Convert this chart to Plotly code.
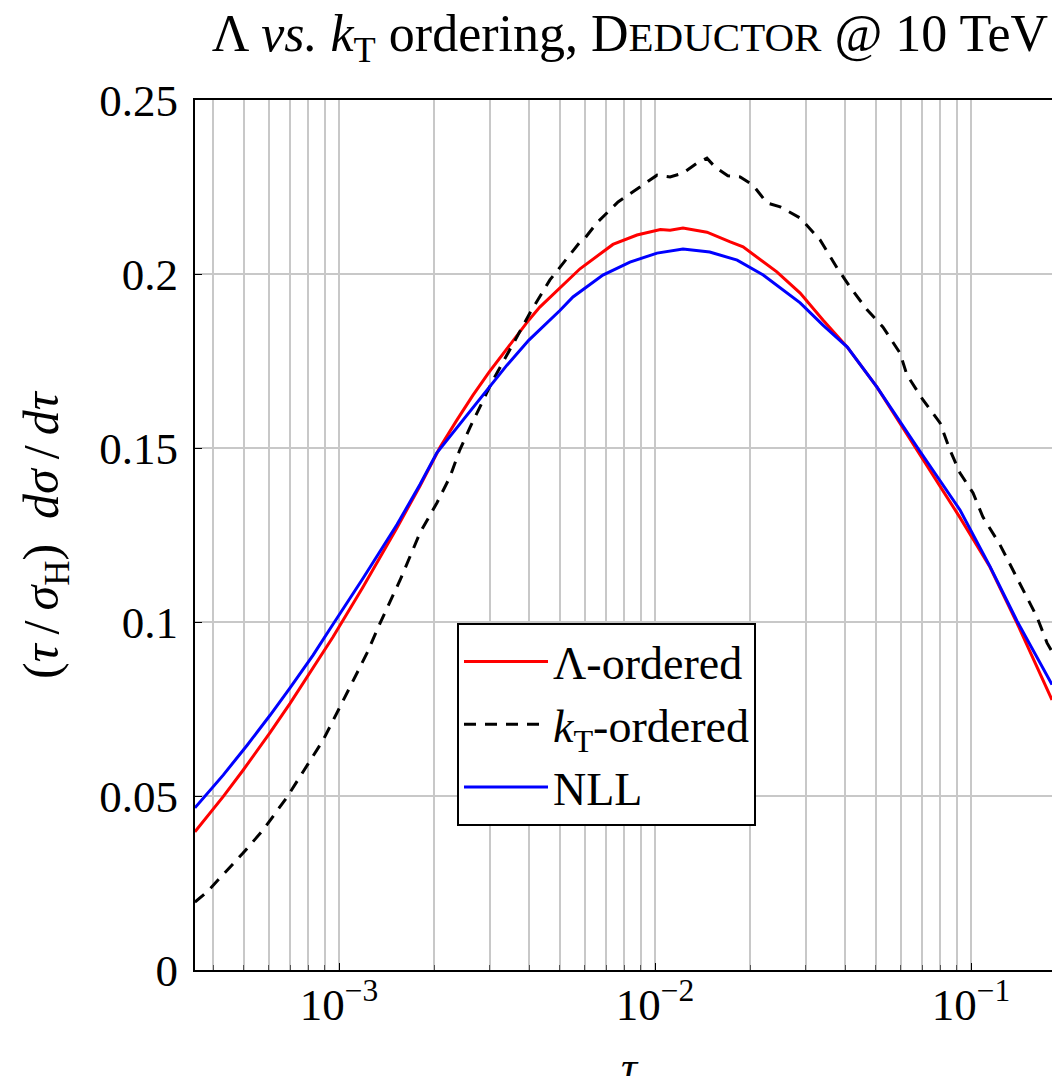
import plotly.graph_objects as go

# ---- data ----
tau_lambda = [3.50e-4, 4.30e-4, 4.97e-4, 6.05e-4, 7.00e-4, 8.09e-4, 9.57e-4, 1.19e-3,
              1.526e-3, 1.804e-3, 2.09e-3, 2.36e-3, 2.655e-3, 2.985e-3, 3.40e-3, 3.99e-3,
              4.32e-3, 5.00e-3, 5.79e-3, 7.36e-3,
              8.77e-3, 1.04e-2, 1.116e-2, 1.226e-2, 1.46e-2, 1.73e-2, 1.90e-2, 2.43e-2,
              2.88e-2, 3.40e-2, 4.06e-2, 5.04e-2, 6.75e-2, 9.23e-2, 0.1148, 0.1398, 0.1804]
val_lambda = [0.0397, 0.0498, 0.0574, 0.0682, 0.0766, 0.0853, 0.0957, 0.1100,
              0.1271, 0.1391, 0.1503, 0.1580, 0.1652, 0.1718, 0.1785, 0.1868,
              0.1905, 0.1960, 0.2015, 0.2085,
              0.2112, 0.2128, 0.2126, 0.2132, 0.2120, 0.2092, 0.2078, 0.2006,
              0.1945, 0.1868, 0.1790, 0.1675, 0.1494, 0.1300, 0.1158, 0.0997, 0.0776]

tau_kt = [3.50e-4, 3.82e-4, 4.97e-4, 5.75e-4, 6.85e-4, 8.09e-4, 8.90e-4, 1.007e-3,
          1.14e-3, 1.227e-3, 1.349e-3, 1.56e-3, 1.804e-3, 2.04e-3, 2.245e-3, 2.41e-3,
          2.60e-3, 2.79e-3, 3.07e-3, 3.56e-3, 4.02e-3,
          4.65e-3, 5.00e-3, 5.79e-3, 6.00e-3, 6.55e-3, 7.64e-3, 8.96e-3, 1.015e-2,
          1.116e-2, 1.226e-2, 1.36e-2, 1.46e-2, 1.55e-2, 1.70e-2, 1.86e-2, 2.04e-2,
          2.26e-2, 2.49e-2, 2.88e-2, 3.33e-2, 3.77e-2, 4.14e-2, 4.69e-2, 5.26e-2,
          5.96e-2, 6.27e-2, 7.05e-2, 7.98e-2, 8.58e-2, 9.23e-2, 0.1015, 0.109,
          0.1235, 0.143, 0.1618, 0.174, 0.1804]
val_kt = [0.0195, 0.0224, 0.0336, 0.0402, 0.0497, 0.0603, 0.0660, 0.0756,
          0.0853, 0.0911, 0.0997, 0.1120, 0.1256, 0.1342, 0.1417, 0.1494,
          0.1560, 0.1618, 0.1695, 0.1800, 0.1888,
          0.1983, 0.2020, 0.2092, 0.2103, 0.2147, 0.2207, 0.2250, 0.2284,
          0.2279, 0.2290, 0.2319, 0.2333, 0.2307, 0.2282, 0.2279, 0.2256,
          0.2204, 0.2193, 0.2161, 0.2098, 0.2017, 0.1963, 0.1897, 0.1848,
          0.1773, 0.1710, 0.1638, 0.1572, 0.1494, 0.1428, 0.1371, 0.1302,
          0.1222, 0.1110, 0.1014, 0.0940, 0.0915]

tau_nll = [3.50e-4, 4.30e-4, 5.12e-4, 6.05e-4, 7.00e-4, 8.28e-4, 9.36e-4, 1.19e-3,
           1.526e-3, 1.804e-3, 2.04e-3, 2.47e-3, 2.655e-3, 2.985e-3, 3.40e-3, 3.99e-3,
           5.00e-3, 5.50e-3, 6.84e-3, 8.33e-3,
           1.015e-2, 1.226e-2, 1.49e-2, 1.82e-2, 2.20e-2, 2.88e-2, 3.40e-2, 4.06e-2,
           5.04e-2, 6.75e-2, 9.23e-2, 0.1148, 0.1398, 0.1804]
val_nll = [0.0466, 0.0560, 0.0646, 0.0732, 0.0811, 0.0905, 0.0980, 0.1125,
           0.1280, 0.1395, 0.1486, 0.1580, 0.1618, 0.1675, 0.1738, 0.1810,
           0.1895, 0.1934, 0.1997, 0.2034,
           0.2060, 0.2072, 0.2063, 0.2040, 0.1997, 0.1917, 0.1853, 0.1790,
           0.1675, 0.1503, 0.1322, 0.1160, 0.1003, 0.0820]

y_ticks = [0, 0.05, 0.1, 0.15, 0.2, 0.25]
y_ticklabels = ["0", "0.05", "0.1", "0.15", "0.2", "0.25"]
x_ticks = [1e-3, 1e-2, 1e-1]
x_ticklabels = ["10<sup>\u22123</sup>", "10<sup>\u22122</sup>", "10<sup>\u22121</sup>"]

FONT = "Liberation Serif"
W, H = 1052, 1076
ML, MT, MB, MR = 195, 100, 106, 0

fig = go.Figure()
fig.add_trace(go.Scatter(x=tau_lambda, y=val_lambda, mode="lines", name="\u039b-ordered",
                         line=dict(color="#ff0000", width=3)))
fig.add_trace(go.Scatter(x=tau_kt, y=val_kt, mode="lines",
                         name="<i>k</i><sub>T</sub>-ordered",
                         line=dict(color="#000000", width=3, dash="12px,9px")))
fig.add_trace(go.Scatter(x=tau_nll, y=val_nll, mode="lines", name="NLL",
                         line=dict(color="#0000ff", width=3)))

grid = "#c8c8c8"
fig.update_layout(
    width=W, height=H,
    margin=dict(l=ML, r=MR, t=MT, b=MB, pad=0),
    paper_bgcolor="white", plot_bgcolor="white",
    font=dict(family=FONT, size=45, color="black"),
    title=dict(text="\u039b <i>vs.</i> <i>k</i><sub>T</sub> ordering, D<span style='font-size:41px'>EDUCTOR</span> @ 10 TeV",
               x=630 / W, xref="container", xanchor="center",
               y=1 - 33 / H, yref="container", yanchor="middle",
               font=dict(family=FONT, size=52, color="black")),
    showlegend=True,
    legend=dict(x=(457 - ML) / (W - ML - MR), y=(970 - 623) / 870,
                xanchor="left", yanchor="top",
                bgcolor="white", bordercolor="black", borderwidth=2,
                font=dict(family=FONT, size=46, color="black"),
                itemwidth=84, tracegroupgap=0),
)
fig.update_xaxes(
    type="log", range=[-3.4557, -0.7437],
    tickvals=x_ticks, ticktext=x_ticklabels,
    ticks="inside", ticklen=7, tickcolor="black", tickwidth=1,
    showline=True, linecolor="black", linewidth=2, mirror=True,
    showgrid=True, gridcolor=grid, gridwidth=2,
    minor=dict(dtick="D1", showgrid=True, gridcolor=grid, gridwidth=2,
               ticks="inside", ticklen=5, tickcolor="#555555"),
    zeroline=False, ticklabelstandoff=-6,
    tickfont=dict(family=FONT, size=45),
)
fig.update_yaxes(
    range=[0, 0.25], tickvals=y_ticks, ticktext=y_ticklabels,
    ticks="inside", ticklen=7, tickcolor="black",
    showline=True, linecolor="black", linewidth=2,
    showgrid=True, gridcolor=grid, gridwidth=2,
    zeroline=False, ticklabelstandoff=6,
    tickfont=dict(family=FONT, size=45),
)

fig.add_annotation(text="(<i>\u03c4</i>\u2009/\u2009<i>\u03c3</i><sub>H</sub>)  <i>d\u03c3</i>\u2009/\u2009<i>d\u03c4</i>",
                   xref="paper", yref="paper", x=(45 - ML) / (W - ML - MR), y=0.5,
                   xanchor="center", yanchor="middle", textangle=-90, showarrow=False,
                   font=dict(family=FONT, size=50, color="black"))
fig.add_annotation(text="<i>\u03c4</i>", xref="paper", yref="paper",
                   x=(630 - ML) / (W - ML - MR), y=(970 - 1040) / 870,
                   xanchor="center", yanchor="top", showarrow=False,
                   font=dict(family=FONT, size=45, color="black"))

fig.write_html("out.html")
